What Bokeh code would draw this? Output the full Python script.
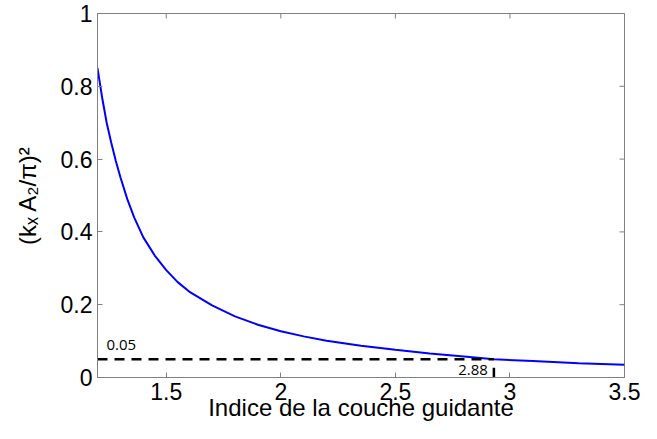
from bokeh.plotting import figure
from bokeh.models import Range1d, FixedTicker, Label
from bokeh.embed import file_html
from bokeh.resources import INLINE

# ---- data ----
n_index = [1.20, 1.22, 1.24, 1.26, 1.28, 1.30, 1.33, 1.36, 1.40, 1.45, 1.50,
           1.55, 1.60, 1.70, 1.80, 1.90, 2.00, 2.10, 2.20, 2.35, 2.50, 2.65,
           2.80, 2.93, 3.10, 3.30, 3.50]
kx_sq = [0.850, 0.770, 0.700, 0.645, 0.595, 0.550, 0.490, 0.440, 0.385, 0.335,
         0.295, 0.262, 0.236, 0.198, 0.168, 0.145, 0.127, 0.113, 0.101, 0.087,
         0.076, 0.066, 0.058, 0.050, 0.045, 0.039, 0.035]

threshold_value = 0.05
threshold_index = 2.93
mark_height = 0.027
threshold_text = "0.05"
index_text = "2.88"

x_ticks = [1.5, 2, 2.5, 3, 3.5]
x_tick_labels = ["1.5", "2", "2.5", "3", "3.5"]
y_ticks = [0, 0.2, 0.4, 0.6, 0.8, 1]
y_tick_labels = ["0", "0.2", "0.4", "0.6", "0.8", "1"]
x_start, x_end = 1.2, 3.5
y_start, y_end = 0.0, 1.0

x_title = "Indice de la couche guidante"
y_title = "(k\u2093 A\u2082/\u03c0)\u00b2"

FONT = "Liberation Sans"
GRAY = "#808080"

p = figure(width=641, height=423, x_range=Range1d(x_start, x_end),
           y_range=Range1d(y_start, y_end), toolbar_location=None,
           output_backend="svg", min_border_left=97, min_border_right=17,
           min_border_top=13, min_border_bottom=44)
p.xgrid.visible = False
p.ygrid.visible = False
p.outline_line_color = GRAY
p.outline_line_width = 1
p.background_fill_color = "white"
p.border_fill_color = "white"

for ax, ticks, labels in ((p.xaxis[0], x_ticks, x_tick_labels),
                          (p.yaxis[0], y_ticks, y_tick_labels)):
    ax.ticker = FixedTicker(ticks=ticks)
    ax.major_label_overrides = {t: l for t, l in zip(ticks, labels)}
    ax.major_tick_in = 5
    ax.major_tick_out = 0
    ax.minor_tick_line_color = None
    ax.major_tick_line_color = GRAY
    ax.axis_line_color = GRAY
    ax.major_label_text_font = FONT
    ax.major_label_text_color = "black"
    ax.major_label_text_font_size = "23px"
    ax.major_label_standoff = 5
    ax.axis_label_text_font = FONT
    ax.axis_label_text_font_size = "24px"
    ax.axis_label_text_font_style = "normal"
    ax.axis_label_text_color = "black"

p.xaxis[0].axis_label = x_title
p.xaxis[0].axis_label_standoff = -9
p.xaxis[0].axis_label_text_line_height = 0.9
p.yaxis[0].axis_label = y_title
p.yaxis[0].axis_label_standoff = 17

# inner ticks on the top and right edges (half of each dash is clipped by the frame)
p.scatter(x_ticks, [y_end] * len(x_ticks), marker="dash", angle=1.5707963267948966,
          size=10, line_color=GRAY, line_width=1)
p.scatter([x_end] * len(y_ticks), y_ticks, marker="dash",
          size=10, line_color=GRAY, line_width=1)

# curve
p.line(n_index, kx_sq, line_color="#0000ff", line_width=2)

# dashed threshold line and marker
p.line([x_start, threshold_index], [threshold_value, threshold_value],
       line_color="black", line_width=2.5, line_dash="10 7")
p.line([threshold_index, threshold_index], [y_start, mark_height],
       line_color="black", line_width=2.5)

p.add_layout(Label(x=x_start, y=threshold_value, x_offset=9, y_offset=9,
                   text=threshold_text, text_font="Open Sans",
                   text_font_size="15px", text_color="black"))
p.add_layout(Label(x=threshold_index, y=y_start, x_offset=-6, y_offset=3,
                   text=index_text, text_font="Open Sans", text_align="right",
                   text_font_size="15px", text_color="black"))

open("out.html", "w").write(file_html(p, INLINE))
